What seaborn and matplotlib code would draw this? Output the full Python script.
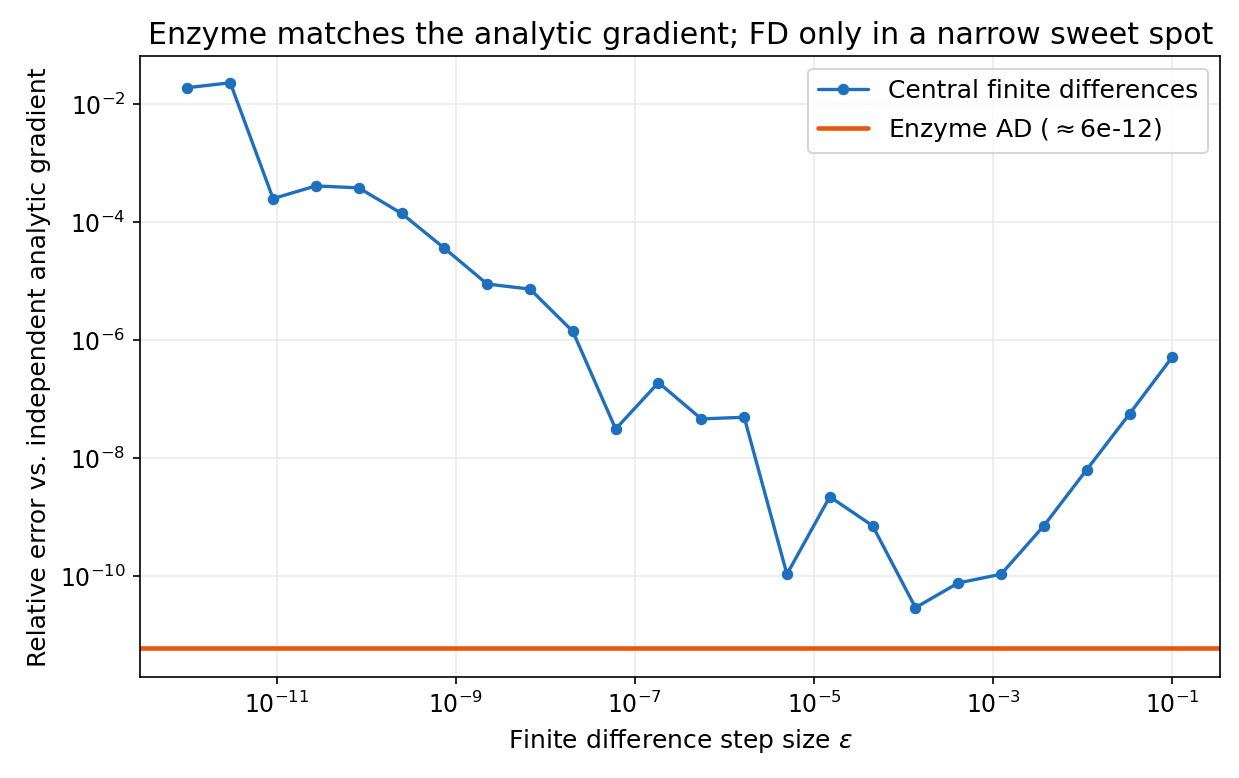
import numpy as np
import pandas as pd
import matplotlib
matplotlib.use("Agg")
import matplotlib.pyplot as plt
import seaborn as sns

eps = [1.00e-12, 3.01e-12, 9.05e-12, 2.72e-11, 8.20e-11, 2.47e-10, 7.42e-10, 2.23e-09,
       6.72e-09, 2.02e-08, 6.08e-08, 1.83e-07, 5.50e-07, 1.66e-06, 4.98e-06, 1.50e-05,
       4.51e-05, 1.36e-04, 4.08e-04, 1.23e-03, 3.70e-03, 1.11e-02, 3.35e-02, 1.00e-01]
fd_err = [1.9e-2, 2.3e-2, 2.5e-4, 4.1e-4, 3.8e-4, 1.4e-4, 3.6e-5, 8.9e-6,
          7.3e-6, 1.4e-6, 3.1e-8, 1.9e-7, 4.6e-8, 4.9e-8, 1.07e-10, 2.2e-9,
          7.1e-10, 2.9e-11, 7.6e-11, 1.07e-10, 7.1e-10, 6.3e-9, 5.6e-8, 5.1e-7]
enzyme_err = 6e-12

sns.set_theme(style="ticks")
plt.rcParams['font.family'] = ['DejaVu Sans']
for k in ["text.color", "axes.labelcolor", "xtick.color", "ytick.color"]:
    plt.rcParams[k] = "black"
df = pd.DataFrame({"eps": eps, "err": fd_err})

fig, ax = plt.subplots(figsize=(8.26, 5.19), dpi=150)
sns.lineplot(data=df, x="eps", y="err", ax=ax, color="#1f6fbf", marker="o",
             markersize=5.5, markeredgewidth=0, linewidth=1.6,
             label="Central finite differences")
ax.axhline(enzyme_err, color="#e8580c", linewidth=2.2, label="Enzyme AD ($\\approx$6e-12)")
ax.set_xscale("log")
ax.set_yscale("log")
ax.set_xlim(10**-12.53, 10**-0.46)
ax.set_ylim(10**-11.71, 10**-1.19)
ax.set_xticks([1e-11, 1e-9, 1e-7, 1e-5, 1e-3, 1e-1])
ax.set_yticks([1e-10, 1e-8, 1e-6, 1e-4, 1e-2])
ax.minorticks_off()
ax.grid(True, color="#ebebeb", linewidth=0.8)
for s in ax.spines.values():
    s.set_color("black"); s.set_linewidth(0.8)
ax.tick_params(labelsize=11.3, color="black", length=3.5, width=0.8)
ax.set_xlabel("Finite difference step size $\\epsilon$", fontsize=12)
ax.set_ylabel("Relative error vs. independent analytic gradient", fontsize=12)
ax.set_title("Enzyme matches the analytic gradient; FD only in a narrow sweet spot", fontsize=14.4)
ax.legend(loc="upper right", fontsize=12, frameon=True)
fig.subplots_adjust(left=0.113, right=0.985, top=0.927, bottom=0.13)
fig.savefig("out.png", dpi=150)
